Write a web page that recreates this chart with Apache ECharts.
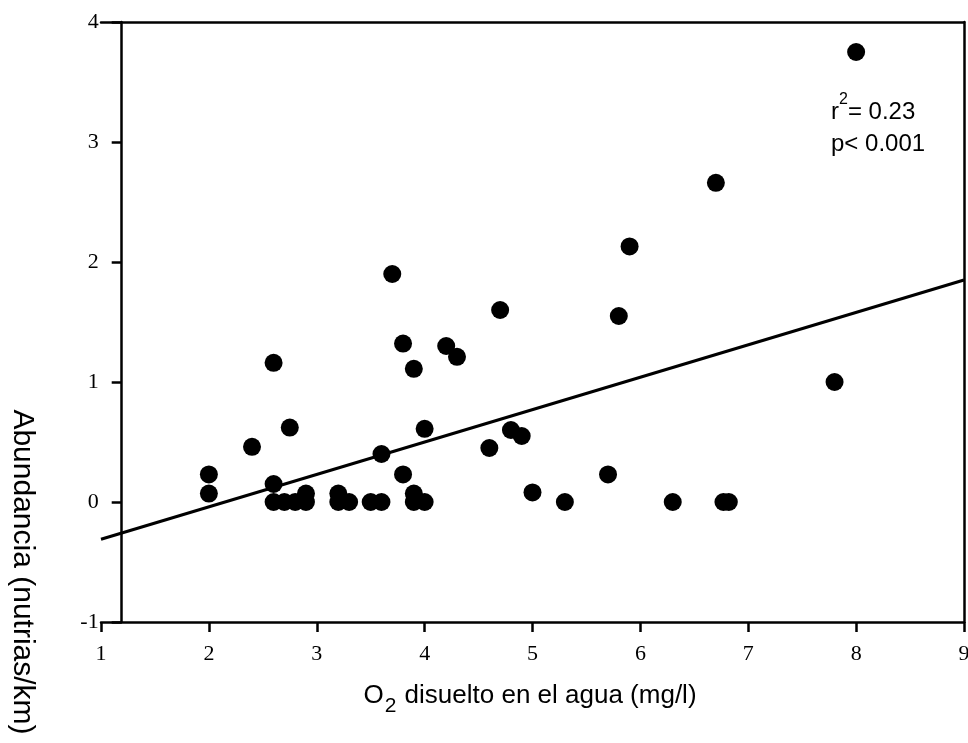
<!DOCTYPE html>
<html>
<head>
<meta charset="utf-8">
<script src="https://cdn.jsdelivr.net/npm/echarts@6/dist/echarts.min.js"></script>
<style>html,body{margin:0;padding:0;background:#fff;}#c{width:968px;height:743px;}</style>
</head>
<body>
<div id="c"></div>
<script>
// Data
var oxygen = [8.0, 6.7, 5.9, 5.8, 7.8, 5.7, 6.3, 6.77, 6.82, 4.7, 4.2, 4.3, 4.8, 4.9, 4.6, 5.0, 5.3,
  3.7, 3.8, 3.9, 4.0, 3.6, 3.8, 3.9, 3.9, 4.0, 3.5, 3.6, 3.2, 3.2, 3.3, 2.9, 2.9, 2.8, 2.7, 2.6, 2.6,
  2.6, 2.75, 2.4, 2.0, 2.0];
var abundance = [3.75, 2.66, 2.13, 1.55, 1.0, 0.23, 0, 0, 0, 1.6, 1.3, 1.21, 0.6, 0.55, 0.45, 0.08, 0,
  1.9, 1.32, 1.11, 0.61, 0.4, 0.23, 0.07, 0, 0, 0, 0, 0.07, 0, 0, 0.07, 0, 0, 0, 0, 0.15,
  1.16, 0.62, 0.46, 0.23, 0.07];
var fitX = [1, 9];
var fitY = [-0.31, 1.85];
var xTicks = [1, 2, 3, 4, 5, 6, 7, 8, 9];
var yTicks = [-1, 0, 1, 2, 3, 4];

var pts = oxygen.map(function (x, i) { return [x, abundance[i]]; });
var fit = fitX.map(function (x, i) { return [x, fitY[i]]; });

var serif = 'Liberation Serif';
var sans = 'Liberation Sans';
var chart = echarts.init(document.getElementById('c'));
chart.setOption({
  animation: false,
  backgroundColor: '#fff',
  grid: { left: 101, right: 4, top: 22, bottom: 121, containLabel: false, outerBoundsMode: 'none' },
  xAxis: [{
    type: 'value', min: xTicks[0], max: xTicks[xTicks.length - 1], interval: 1,
    position: 'bottom',
    axisLine: { show: true, onZero: false, lineStyle: { color: '#000', width: 2.5 } },
    axisTick: { show: true, length: 10, lineStyle: { color: '#000', width: 2.5 } },
    axisLabel: { color: '#000', fontFamily: serif, fontSize: 22, margin: 21 },
    splitLine: { show: false }
  }, {
    type: 'value', min: xTicks[0], max: xTicks[xTicks.length - 1], position: 'top',
    axisLine: { show: true, onZero: false, lineStyle: { color: '#000', width: 2.5 } },
    axisTick: { show: false }, axisLabel: { show: false }, splitLine: { show: false }
  }],
  yAxis: [{
    type: 'value', min: yTicks[0], max: yTicks[yTicks.length - 1], interval: 1,
    position: 'left', offset: -20.7,
    axisLine: { show: true, onZero: false, lineStyle: { color: '#000', width: 2.5 } },
    axisTick: { show: true, length: 10, lineStyle: { color: '#000', width: 2.5 } },
    axisLabel: { color: '#000', fontFamily: serif, fontSize: 22, margin: 23 },
    splitLine: { show: false }
  }, {
    type: 'value', min: yTicks[0], max: yTicks[yTicks.length - 1], position: 'right',
    axisLine: { show: true, onZero: false, lineStyle: { color: '#000', width: 2.5 } },
    axisTick: { show: false }, axisLabel: { show: false }, splitLine: { show: false }
  }],
  series: [{
    type: 'line', data: fit, showSymbol: false, symbol: 'none',
    lineStyle: { color: '#000', width: 3 }, z: 2, silent: true
  }, {
    type: 'scatter', data: pts, symbol: 'circle', symbolSize: 18,
    itemStyle: { color: '#000', opacity: 1 }, z: 3, silent: true
  }],
  graphic: [{
    type: 'text', x: 530, y: 700,
    style: {
      text: '{a|O}{s|2}{a| disuelto en el agua (mg/l)}',
      align: 'center', verticalAlign: 'middle', textAlign: 'center', textVerticalAlign: 'middle',
      fill: '#000',
      rich: {
        a: { fontFamily: sans, fontSize: 26, lineHeight: 34, verticalAlign: 'top', fill: '#000' },
        s: { fontFamily: sans, fontSize: 21, lineHeight: 24, verticalAlign: 'bottom', fill: '#000', padding: [0, 1, 0, 1] }
      }
    }
  }, {
    type: 'text', x: 22, y: 572, rotation: -Math.PI / 2,
    style: {
      text: 'Abundancia (nutrias/km)',
      align: 'center', verticalAlign: 'middle', textAlign: 'center', textVerticalAlign: 'middle',
      fill: '#000', fontFamily: sans, fontSize: 30
    }
  }, {
    type: 'text', x: 831, y: 124,
    style: {
      text: '{a|r}{u|2}{a|= 0.23}\n{a|p< 0.001}',
      align: 'left', verticalAlign: 'middle', textAlign: 'left', textVerticalAlign: 'middle',
      fill: '#000',
      rich: {
        a: { fontFamily: sans, fontSize: 24, lineHeight: 32, verticalAlign: 'bottom', fill: '#000' },
        u: { fontFamily: sans, fontSize: 16, lineHeight: 22, verticalAlign: 'top', fill: '#000' }
      }
    }
  }]
});
</script>
</body>
</html>
